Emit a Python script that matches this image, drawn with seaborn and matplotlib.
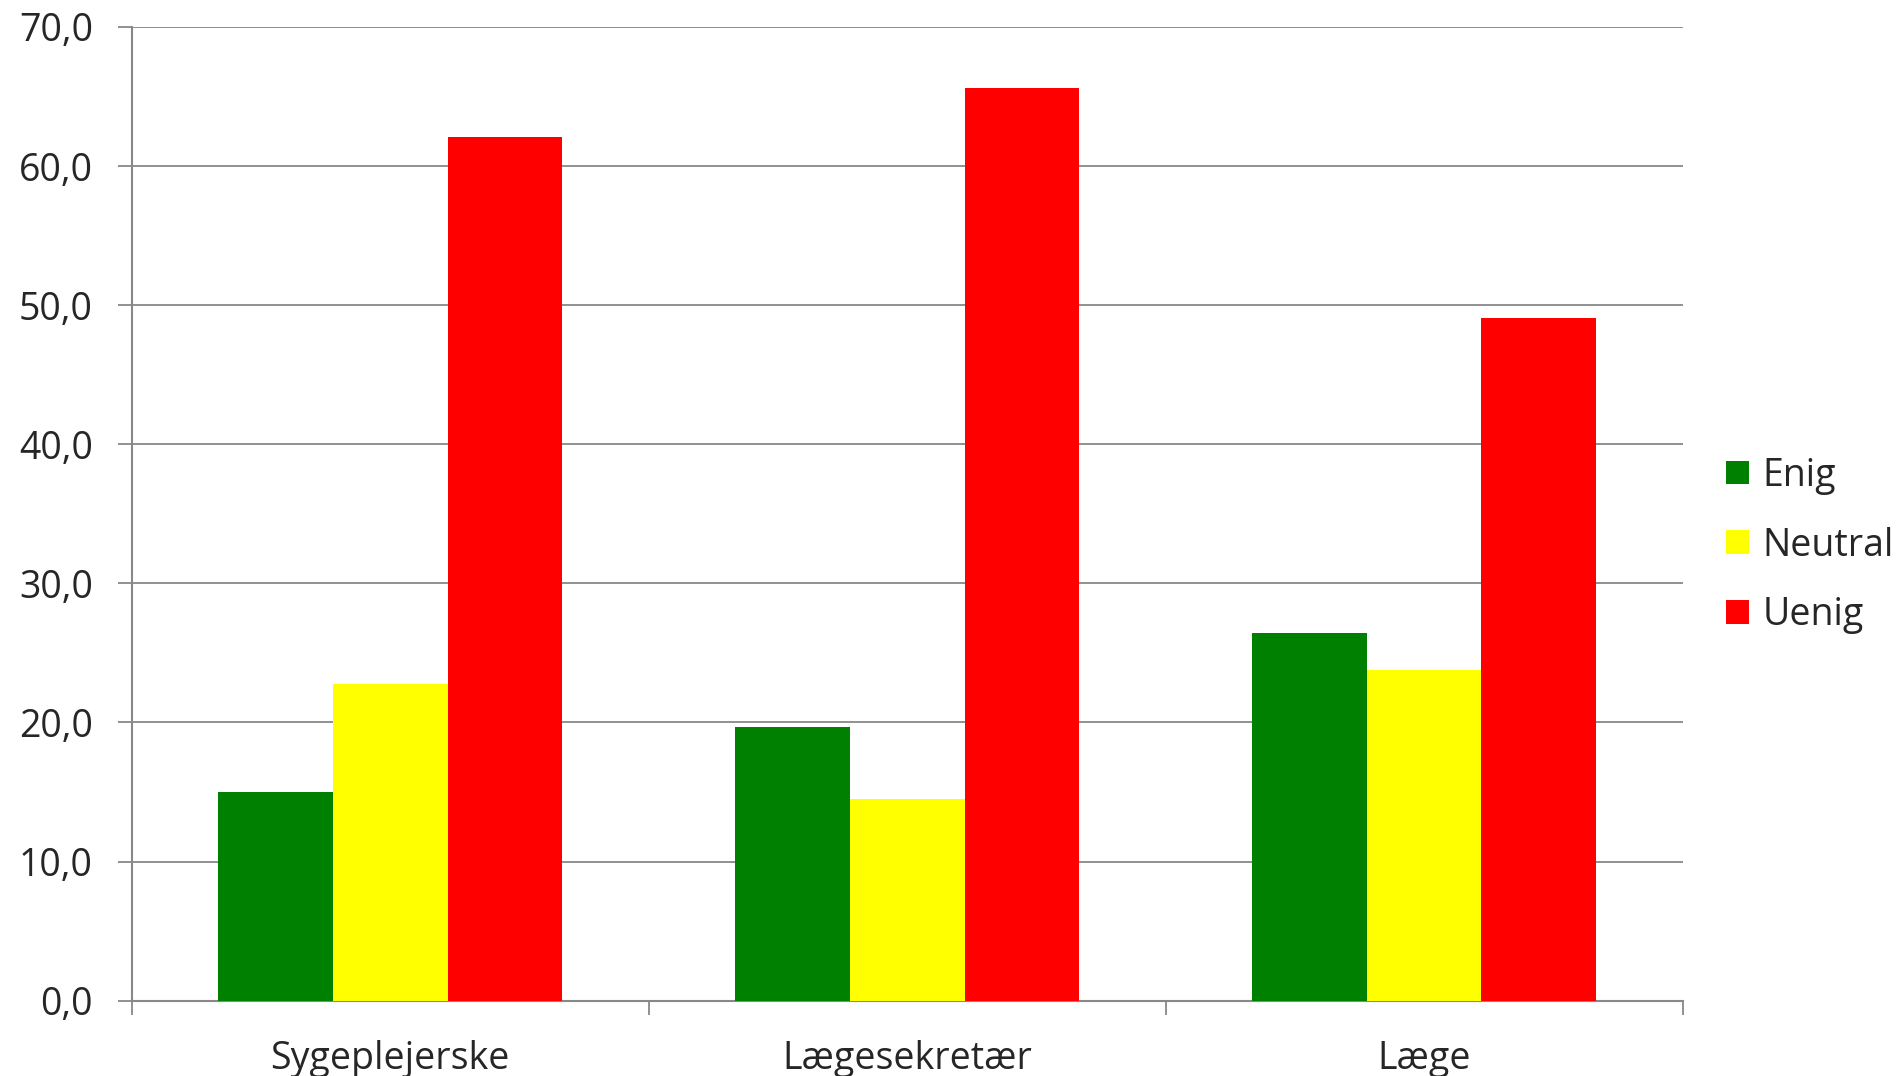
import pandas as pd
import matplotlib.pyplot as plt
import matplotlib.ticker as mticker
import seaborn as sns

# values
groups = ["Sygeplejerske", "Lægesekretær", "Læge"]
answers = ["Enig", "Neutral", "Uenig"]
enig = [15.0, 19.7, 26.4]
neutral = [22.8, 14.5, 23.8]
uenig = [62.1, 65.6, 49.1]
colors = ["#008000", "#FFFF00", "#FF0000"]
y_ticks = [0, 10, 20, 30, 40, 50, 60, 70]

rows = []
for i, g in enumerate(groups):
    rows.append((g, "Enig", enig[i]))
    rows.append((g, "Neutral", neutral[i]))
    rows.append((g, "Uenig", uenig[i]))
df = pd.DataFrame(rows, columns=["group", "answer", "value"])

sns.set_style("white")
plt.rcParams['font.family'] = ['Open Sans', 'DejaVu Sans']

fig = plt.figure(figsize=(18.97, 10.76), dpi=100)
ax = fig.add_axes([0.0695, 0.07, 0.8175, 0.905])

sns.barplot(data=df, x="group", y="value", hue="answer", order=groups,
            hue_order=answers, palette=colors, saturation=1, width=0.665,
            edgecolor="none", linewidth=0, ax=ax, zorder=3)

grid_col = "#888888"
ax.set_ylim(0, 70)
ax.set_xlim(-0.5, 2.5)
ax.set_yticks(y_ticks)
ax.yaxis.set_major_formatter(mticker.FuncFormatter(lambda v, p: f"{v:.1f}".replace(".", ",")))
ax.yaxis.grid(True, color=grid_col, linewidth=1.3, zorder=0)
ax.set_axisbelow(True)

for s in ["top", "right"]:
    ax.spines[s].set_visible(False)
for s in ["left", "bottom"]:
    ax.spines[s].set_color(grid_col)
    ax.spines[s].set_linewidth(1.5)

ax.tick_params(axis="y", length=10, width=1.3, color=grid_col, labelsize=27, pad=18, left=True)
ax.tick_params(axis="x", which="major", length=0, labelsize=27, pad=28)
ax.set_xticks([-0.5, 0.5, 1.5, 2.5], minor=True)
ax.tick_params(axis="x", which="minor", length=10, width=1.3, color=grid_col, bottom=True)
ax.set_xlabel("")
ax.set_ylabel("")

handles, labels = ax.get_legend_handles_labels()
ax.get_legend().remove()
fig.legend(handles, labels, loc="center left", bbox_to_anchor=(0.902, 0.493),
           frameon=False, fontsize=27, handlelength=0.6, handleheight=0.6,
           handletextpad=0.38, labelspacing=0.85, borderaxespad=0)

fig.savefig("out.png", dpi=100)
